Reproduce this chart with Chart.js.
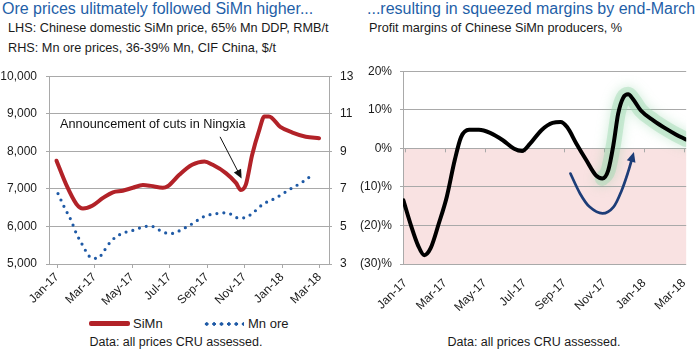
<!DOCTYPE html>
<html>
<head>
<meta charset="utf-8">
<script src="https://cdn.jsdelivr.net/npm/chart.js@4.4.1/dist/chart.umd.min.js"></script>
<style>
body { margin: 0; background: #fff; }
#page { position: relative; width: 698px; height: 351px; overflow: hidden; font-family: "Liberation Sans", Arial, sans-serif; color: #1a1a1a; }
.t { position: absolute; white-space: nowrap; line-height: normal; }
.title { font-size: 16px; color: #1f5fa8; }
.sub { font-size: 12.7px; }
.foot { font-size: 12.5px; width: 300px; text-align: center; }
.leg { font-size: 13px; }
#legRed { position: absolute; left: 89px; top: 321px; width: 41px; height: 4.5px; background: #b22228; border-radius: 2px; }
#legBlue { position: absolute; left: 203px; top: 321.5px; width: 41px; height: 4px;
  background-image: radial-gradient(circle, #1f5aa6 1.5px, transparent 2px); background-size: 7.4px 4px; }
canvas { position: absolute; }
</style>
</head>
<body>
<div id="page">
  <div class="t title" style="left:2px; top:0px;">Ore prices ulitmately followed SiMn higher...</div>
  <div class="t sub" style="left:8px; top:21px;">LHS: Chinese domestic SiMn price, 65% Mn DDP, RMB/t</div>
  <div class="t sub" style="left:8px; top:41px;">RHS: Mn ore prices, 36-39% Mn, CIF China, $/t</div>
  <div class="t title" style="left:367px; top:0px;">...resulting in squeezed margins by end-March</div>
  <div class="t sub" style="left:369px; top:21px;">Profit margins of Chinese SiMn producers, %</div>

  <canvas id="leftChart" width="358" height="252" style="left:0px; top:60px;"></canvas>
  <canvas id="rightChart" width="353" height="256" style="left:345px; top:56px;"></canvas>

  <div id="legRed"></div>
  <div class="t leg" style="left:133px; top:316px;">SiMn</div>
  <div id="legBlue"></div>
  <div class="t leg" style="left:248px; top:316px;">Mn ore</div>

  <div class="t foot" style="left:26px; top:335px;">Data: all prices CRU assessed.</div>
  <div class="t foot" style="left:384px; top:335px;">Data: all prices CRU assessed.</div>
</div>

<script>
// months counted from Jan-17 = 0
var tickMonths = [0, 2, 4, 6, 8, 10, 12, 14];
var tickLabels = ['Jan-17', 'Mar-17', 'May-17', 'Jul-17', 'Sep-17', 'Nov-17', 'Jan-18', 'Mar-18'];

// LHS: SiMn price, RMB/t
var simnMonths = [-0.03, 0.5, 1.03, 1.38, 1.9, 2.45, 2.98, 3.5, 4.04, 4.58, 5.0, 5.64, 5.9, 6.53, 7.2, 7.86, 8.3, 9.0, 9.54, 9.8, 10.07, 10.4, 10.8, 11.05, 11.3, 11.9, 12.55, 13.26, 13.97];
var simnPrice = [7750, 7100, 6600, 6480, 6560, 6760, 6910, 6950, 7030, 7100, 7080, 7030, 7070, 7380, 7640, 7730, 7640, 7420, 7160, 6970, 7120, 7900, 8600, 8930, 8930, 8650, 8500, 8390, 8350];

// RHS: Mn ore price, $/t
var oreMonths = [0.05, 0.4, 0.76, 1.03, 1.38, 1.65, 1.83, 2.18, 2.45, 2.89, 3.5, 3.95, 4.66, 5.0, 5.37, 5.73, 6.08, 6.44, 7.15, 7.86, 8.57, 9.0, 9.36, 9.63, 9.98, 10.34, 10.96, 11.67, 12.38, 13.09, 13.62];
var orePrice = [6.75, 6.0, 5.3, 4.62, 3.97, 3.5, 3.32, 3.3, 3.62, 4.23, 4.64, 4.76, 4.99, 5.02, 4.85, 4.67, 4.62, 4.73, 5.11, 5.54, 5.69, 5.73, 5.61, 5.46, 5.46, 5.64, 6.17, 6.52, 6.96, 7.37, 7.75];

// profit margins, %
var marginMonths = [-0.1, 0.3, 0.63, 0.95, 1.27, 1.68, 2.08, 2.48, 2.8, 3.2, 3.7, 4.26, 4.9, 5.47, 5.87, 6.27, 6.84, 7.4, 7.8, 8.13, 8.6, 9.1, 9.58, 9.9, 10.2, 10.47, 10.7, 10.95, 11.2, 11.44, 11.84, 12.48, 13.1, 13.6, 14.1];
var marginPct = [-13.5, -20.3, -25.1, -27.7, -25.9, -19.5, -12.6, -3.1, 2.9, 4.8, 4.8, 4.0, 2.1, -0.1, -0.7, 1.2, 4.7, 6.6, 6.8, 5.5, 1.2, -3.1, -7.0, -7.8, -5.7, 1.2, 9.0, 13.1, 14.0, 12.8, 9.8, 7.2, 5.1, 3.6, 2.3];
var glowFrom = 9.7;

// annotations, in data units
var noteText = 'Announcement of cuts in Ningxia';
var noteAt = [0.16, 8712];
var noteArrow = [[8.69, 8386], [9.84, 7275]];
var turnArrow = [[8.3, -6.54], [8.78, -11.71], [9.26, -15.18], [9.91, -16.89], [10.47, -15.18], [10.88, -10.86], [11.2, -6.13], [11.49, -0.95]];

var fontFamily = '"Liberation Sans", Arial, sans-serif';
Chart.defaults.font.family = fontFamily;
Chart.defaults.font.size = 12;
Chart.defaults.color = '#1a1a1a';

function toPoints(xs, ys) {
	return xs.map(function(x, i) { return {x: x, y: ys[i]}; });
}

function monthTicks(scale) {
	scale.ticks = tickMonths.map(function(v) { return {value: v}; });
}

function drawHead(ctx, fromX, fromY, x1, y1, len, color) {
	var a = Math.atan2(y1 - fromY, x1 - fromX);
	var w = len * 0.45;
	ctx.fillStyle = color;
	ctx.beginPath();
	ctx.moveTo(x1, y1);
	ctx.lineTo(x1 - len * Math.cos(a) + w * Math.sin(a), y1 - len * Math.sin(a) - w * Math.cos(a));
	ctx.lineTo(x1 - len * Math.cos(a) - w * Math.sin(a), y1 - len * Math.sin(a) + w * Math.cos(a));
	ctx.closePath();
	ctx.fill();
}

var gridColor = '#a9a9a9';

var ningxiaNote = {
	id: 'ningxiaNote',
	afterDatasetsDraw: function(chart) {
		var ctx = chart.ctx, sx = chart.scales.x, sy = chart.scales.y;
		ctx.save();
		ctx.font = '12.7px ' + fontFamily;
		ctx.fillStyle = '#111';
		ctx.textBaseline = 'middle';
		ctx.fillText(noteText, sx.getPixelForValue(noteAt[0]), sy.getPixelForValue(noteAt[1]));

		var x0 = sx.getPixelForValue(noteArrow[0][0]), y0 = sy.getPixelForValue(noteArrow[0][1]);
		var x1 = sx.getPixelForValue(noteArrow[1][0]), y1 = sy.getPixelForValue(noteArrow[1][1]);
		var a = Math.atan2(y1 - y0, x1 - x0);
		ctx.strokeStyle = '#111';
		ctx.lineWidth = 1;
		ctx.beginPath();
		ctx.moveTo(x0, y0);
		ctx.lineTo(x1 - 6 * Math.cos(a), y1 - 6 * Math.sin(a));
		ctx.stroke();
		drawHead(ctx, x0, y0, x1, y1, 9, '#111');
		ctx.restore();
	}
};

new Chart(document.getElementById('leftChart'), {
	type: 'line',
	data: {
		datasets: [
			{
				label: 'SiMn',
				data: toPoints(simnMonths, simnPrice),
				borderColor: '#b22228',
				borderWidth: 4,
				pointRadius: 0,
				cubicInterpolationMode: 'monotone',
				borderCapStyle: 'round',
				yAxisID: 'y'
			},
			{
				label: 'Mn ore',
				data: toPoints(oreMonths, orePrice),
				borderColor: '#1f5aa6',
				borderWidth: 3.2,
				borderDash: [0, 7],
				borderCapStyle: 'round',
				pointRadius: 0,
				cubicInterpolationMode: 'monotone',
				yAxisID: 'y2'
			}
		]
	},
	options: {
		responsive: false,
		animation: false,
		layout: { padding: { top: 14, left: 0, right: 0, bottom: 0 } },
		plugins: { legend: { display: false }, tooltip: { enabled: false } },
		scales: {
			x: {
				type: 'linear',
				min: -0.43,
				max: 14.5,
				afterBuildTicks: monthTicks,
				afterFit: function(s) { s.height = 48; },
				ticks: {
					autoSkip: false,
					minRotation: 45,
					maxRotation: 45,
					padding: 2,
					callback: function(v, i) { return tickLabels[i]; }
				},
				grid: { display: true, drawOnChartArea: false, tickLength: 4, color: gridColor },
				border: { color: gridColor }
			},
			y: {
				position: 'left',
				min: 5000,
				max: 10000,
				afterFit: function(s) { s.width = 49; },
				ticks: {
					stepSize: 1000,
					padding: 9,
					callback: function(v) { return v.toLocaleString('en-US'); }
				},
				grid: { color: gridColor, tickLength: 3 },
				border: { color: gridColor }
			},
			y2: {
				position: 'right',
				min: 3,
				max: 13,
				afterFit: function(s) { s.width = 29; },
				ticks: { stepSize: 2, padding: 8 },
				grid: { drawOnChartArea: false, color: gridColor, tickLength: 3 },
				border: { color: gridColor }
			}
		}
	},
	plugins: [ningxiaNote]
});

var lossZone = {
	id: 'lossZone',
	beforeDraw: function(chart) {
		var ctx = chart.ctx, a = chart.chartArea, sx = chart.scales.x, sy = chart.scales.y;
		var y0 = sy.getPixelForValue(0);
		ctx.save();
		ctx.fillStyle = '#f9e2e2';
		ctx.fillRect(a.left, y0, a.right - a.left, sy.getPixelForValue(-30) - y0);
		ctx.strokeStyle = gridColor;
		ctx.lineWidth = 1;
		tickMonths.forEach(function(m) {
			var x = Math.round(sx.getPixelForValue(m)) + 0.5;
			ctx.beginPath();
			ctx.moveTo(x, y0);
			ctx.lineTo(x, y0 + 4);
			ctx.stroke();
		});
		ctx.restore();
	},
	beforeDatasetDraw: function(chart, args) {
		if (chart.data.datasets[args.index].glow) {
			chart.ctx.save();
			chart.ctx.shadowColor = 'rgba(130,205,155,0.8)';
			chart.ctx.shadowBlur = 12;
		}
	},
	afterDatasetDraw: function(chart, args) {
		if (chart.data.datasets[args.index].glow) {
			chart.ctx.restore();
		}
	},
	afterDatasetsDraw: function(chart) {
		var ctx = chart.ctx, sx = chart.scales.x, sy = chart.scales.y;
		var pts = turnArrow.map(function(p) { return [sx.getPixelForValue(p[0]), sy.getPixelForValue(p[1])]; });
		var n = pts.length;
		var last = pts[n - 1], prev = pts[n - 2];
		var a = Math.atan2(last[1] - prev[1], last[0] - prev[0]);
		var end = [last[0] - 6 * Math.cos(a), last[1] - 6 * Math.sin(a)];
		var path = pts.slice(0, n - 1).concat([end]);
		ctx.save();
		ctx.strokeStyle = '#1d3d78';
		ctx.lineWidth = 2.7;
		ctx.lineCap = 'round';
		ctx.beginPath();
		ctx.moveTo(path[0][0], path[0][1]);
		for (var i = 0; i < path.length - 1; i++) {
			var p0 = path[i - 1] || path[i], p1 = path[i], p2 = path[i + 1], p3 = path[i + 2] || p2;
			ctx.bezierCurveTo(
				p1[0] + (p2[0] - p0[0]) / 6, p1[1] + (p2[1] - p0[1]) / 6,
				p2[0] - (p3[0] - p1[0]) / 6, p2[1] - (p3[1] - p1[1]) / 6,
				p2[0], p2[1]);
		}
		ctx.stroke();
		drawHead(ctx, prev[0], prev[1], last[0], last[1], 10, '#1d3d78');
		ctx.restore();
	}
};

var marginPoints = toPoints(marginMonths, marginPct);

new Chart(document.getElementById('rightChart'), {
	type: 'line',
	data: {
		datasets: [
			{
				label: 'Margin',
				data: marginPoints,
				borderColor: '#000',
				borderWidth: 4,
				pointRadius: 0,
				cubicInterpolationMode: 'monotone',
				borderCapStyle: 'round'
			},
			{
				label: 'Recovery',
				glow: true,
				data: marginPoints.filter(function(p) { return p.x >= glowFrom; }),
				borderColor: 'rgba(160,218,178,0.45)',
				borderWidth: 15,
				pointRadius: 0,
				cubicInterpolationMode: 'monotone',
				borderCapStyle: 'round',
				borderJoinStyle: 'round'
			}
		]
	},
	options: {
		responsive: false,
		animation: false,
		layout: { padding: { top: 14.7, left: 0, right: 1, bottom: 0 } },
		plugins: { legend: { display: false }, tooltip: { enabled: false } },
		scales: {
			x: {
				type: 'linear',
				min: -0.12,
				max: 14.12,
				afterBuildTicks: monthTicks,
				afterFit: function(s) { s.height = 48; },
				ticks: {
					autoSkip: false,
					minRotation: 45,
					maxRotation: 45,
					padding: 4,
					callback: function(v, i) { return tickLabels[i]; }
				},
				grid: { display: false },
				border: { display: false }
			},
			y: {
				min: -30,
				max: 20,
				afterFit: function(s) { s.width = 58; },
				ticks: {
					stepSize: 10,
					padding: 8,
					callback: function(v) { return v < 0 ? '(' + (-v) + ')%' : v + '%'; }
				},
				grid: { color: gridColor, tickLength: 3 },
				border: { color: gridColor }
			}
		}
	},
	plugins: [lossZone]
});
</script>
</body>
</html>
